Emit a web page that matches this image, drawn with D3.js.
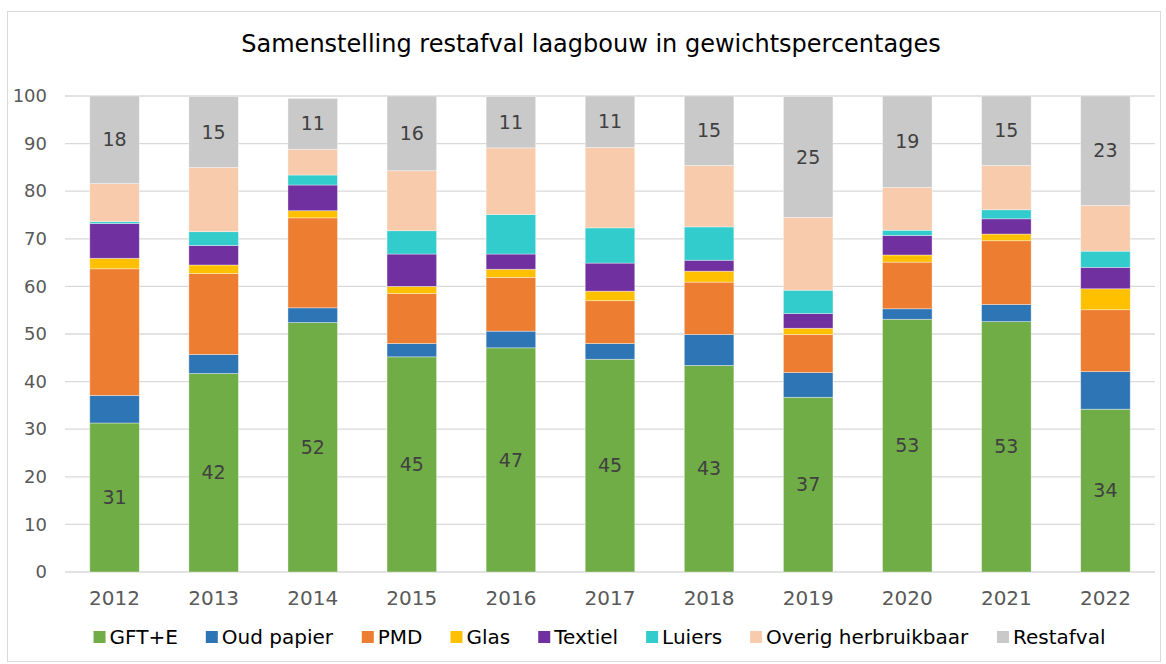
<!DOCTYPE html>
<html>
<head>
<meta charset="utf-8">
<script src="https://cdn.jsdelivr.net/npm/d3@7"></script>
<style>
  body { margin: 0; background: #fff; }
  svg { display: block; font-family: Verdana, "DejaVu Sans", sans-serif; }
</style>
</head>
<body>
<svg id="chart" width="1166" height="664"></svg>
<script>
(function(){
    'use strict';

    // categories and series (weight %)
    const years = ['2012','2013','2014','2015','2016','2017','2018','2019','2020','2021','2022'];
    const seriesNames = ['GFT+E','Oud papier','PMD','Glas','Textiel','Luiers','Overig herbruikbaar','Restafval'];
    const colors = ['#70ad47','#2e75b6','#ed7d31','#ffc000','#7030a0','#33cccc','#f8cbad','#c9c9c9'];

    const gft     = [31.3, 41.7, 52.4, 45.2, 47.1, 44.7, 43.4, 36.7, 53.1, 52.6, 34.2];
    const papier  = [ 5.8,  4.0,  3.1,  2.8,  3.5,  3.3,  6.5,  5.2,  2.2,  3.6,  7.9];
    const pmd     = [26.6, 17.0, 18.9, 10.5, 11.3,  9.0, 11.0,  8.0,  9.8, 13.4, 13.0];
    const glas    = [ 2.2,  1.8,  1.5,  1.5,  1.7,  2.0,  2.3,  1.3,  1.5,  1.4,  4.4];
    const textiel = [ 7.3,  4.1,  5.4,  6.8,  3.2,  5.9,  2.3,  3.1,  4.1,  3.2,  4.5];
    const luiers  = [ 0.4,  2.9,  2.1,  4.9,  8.3,  7.4,  7.0,  4.9,  1.1,  1.9,  3.4];
    const overig  = [ 8.0, 13.5,  5.4, 12.6, 14.0, 16.9, 12.9, 15.3,  9.0,  9.3,  9.6];
    const rest    = [18.4, 14.9, 10.7, 15.7, 10.8, 10.8, 14.6, 25.4, 19.2, 14.6, 23.0];

    const yTicks = [0,10,20,30,40,50,60,70,80,90,100];
    const labelled = ['GFT+E','Restafval'];

    const values = [gft, papier, pmd, glas, textiel, luiers, overig, rest];
    const table = years.map((y, i) => {
        const row = { year: y };
        seriesNames.forEach((s, k) => { row[s] = values[k][i]; });
        return row;
    });

    const svg = d3.select('#chart');
    const margin = { left: 65, right: 11, top: 96, bottom: 92 };
    const W = 1166, H = 664;

    // outer border
    svg.append('rect')
        .attr('x', 7.5).attr('y', 11.5)
        .attr('width', W - 13).attr('height', H - 14)
        .attr('fill', '#fff').attr('stroke', '#d9d9d9');

    svg.append('text')
        .attr('x', 591).attr('y', 52)
        .attr('text-anchor', 'middle')
        .style('font-size', '24px')
        .style('fill', '#000')
        .text('Samenstelling restafval laagbouw in gewichtspercentages');

    const x = d3.scaleBand().domain(years)
        .range([margin.left, W - margin.right])
        .paddingInner(0.5).paddingOuter(0.25);
    const y = d3.scaleLinear().domain([0, 100]).range([H - margin.bottom, margin.top]);

    // gridlines
    svg.append('g')
        .selectAll('line')
        .data(yTicks)
        .join('line')
        .attr('x1', margin.left).attr('x2', W - margin.right)
        .attr('y1', d => y(d)).attr('y2', d => y(d))
        .attr('stroke', '#d9d9d9').attr('stroke-width', 1.3);

    // y axis labels
    const yAxis = svg.append('g')
        .attr('transform', `translate(${margin.left - 7},0)`)
        .call(d3.axisLeft(y).tickValues(yTicks).tickSize(0).tickPadding(11));
    yAxis.select('.domain').remove();
    yAxis.selectAll('text')
        .style('font-family', 'Verdana, "DejaVu Sans", sans-serif')
        .style('font-size', '18px').style('fill', '#595959');

    // x axis labels
    const xAxis = svg.append('g')
        .attr('transform', `translate(0,${H - margin.bottom})`)
        .call(d3.axisBottom(x).tickSize(0).tickPadding(19));
    xAxis.select('.domain').remove();
    xAxis.selectAll('text')
        .style('font-family', 'Verdana, "DejaVu Sans", sans-serif')
        .style('font-size', '20px').style('fill', '#595959');

    const stacked = d3.stack().keys(seriesNames)(table);

    const layers = svg.append('g')
        .selectAll('g')
        .data(stacked)
        .join('g')
        .attr('fill', (d, i) => colors[i]);

    layers.selectAll('rect')
        .data(d => d)
        .join('rect')
        .attr('x', d => x(d.data.year))
        .attr('width', x.bandwidth())
        .attr('y', d => y(d[1]))
        .attr('height', d => y(d[0]) - y(d[1]))
        .attr('stroke', '#ffffff')
        .attr('stroke-opacity', 0.45)
        .attr('stroke-width', 0.8);

    // value labels
    stacked.filter(s => labelled.includes(s.key)).forEach(s => {
        svg.append('g')
            .selectAll('text')
            .data(s)
            .join('text')
            .attr('x', d => x(d.data.year) + x.bandwidth() / 2)
            .attr('y', d => (y(d[0]) + y(d[1])) / 2)
            .attr('dy', '0.35em')
            .attr('text-anchor', 'middle')
            .style('font-size', '19px')
            .style('fill', '#404040')
            .text(d => Math.round(d[1] - d[0]));
    });

    // legend
    const legend = svg.append('g').attr('transform', 'translate(0,637)');
    const items = legend.selectAll('g')
        .data(seriesNames)
        .join('g');
    items.append('rect')
        .attr('width', 12).attr('height', 12)
        .attr('y', -6)
        .attr('fill', (d, i) => colors[i]);
    items.append('text')
        .attr('x', 16)
        .attr('dy', '0.35em')
        .style('font-size', '20px')
        .style('fill', '#000')
        .text(d => d);

    let cx = 0;
    const gap = 28;
    items.each(function() {
        const w = this.getBBox().width;
        d3.select(this).attr('transform', `translate(${cx},0)`);
        cx += w + gap;
    });
    const total = cx - gap;
    legend.attr('transform', `translate(${(94 + 1105) / 2 - total / 2},637)`);
})();
</script>
</body>
</html>
